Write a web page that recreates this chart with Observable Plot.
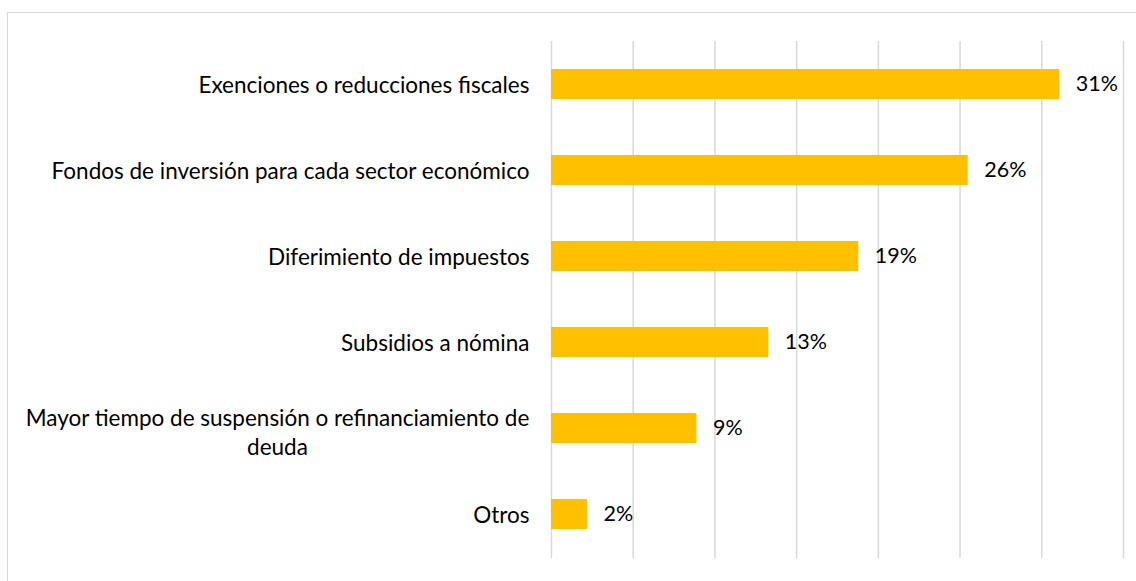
<!DOCTYPE html>
<html>
<head>
<meta charset="utf-8">
<script src="https://cdn.jsdelivr.net/npm/d3@7"></script>
<script src="https://cdn.jsdelivr.net/npm/@observablehq/plot@0.6"></script>
<style>
  html, body { margin: 0; padding: 0; background: #fff; overflow: hidden; }
  #wrap { position: relative; width: 1136px; height: 581px; overflow: hidden; }
  #frame { position: absolute; left: 7px; top: 12px; width: 1300px; height: 800px; border: 1.5px solid #d9d9d9; box-sizing: border-box; }
  #chart { position: absolute; left: 0; top: 0; }
</style>
</head>
<body>
<div id="wrap"><div id="frame"></div><div id="chart"></div></div>
<script>
const categories = [
  "Exenciones o reducciones fiscales",
  "Fondos de inversión para cada sector económico",
  "Diferimiento de impuestos",
  "Subsidios a nómina",
  "Mayor tiempo de suspensión o refinanciamiento de\ndeuda",
  "Otros"
];
const values = [31.1, 25.5, 18.8, 13.3, 8.9, 2.2];
const valueLabels = ["31%", "26%", "19%", "13%", "9%", "2%"];
const gridTicks = [0, 5, 10, 15, 20, 25, 30, 35];

const data = categories.map((c, i) => ({cat: c, value: values[i], label: valueLabels[i], multi: c.includes("\n")}));

const font = "Lato, sans-serif";
const fs = 22.5;
const chart = Plot.plot({
  width: 1136,
  height: 581,
  marginLeft: 551,
  marginRight: 13,
  marginTop: 41,
  marginBottom: 23,
  style: {fontFamily: font, background: "transparent", overflow: "visible"},
  x: {domain: [0, 35], axis: null},
  y: {domain: categories, axis: null, paddingInner: 0.65, paddingOuter: 0.325},
  marks: [
    Plot.ruleX(gridTicks, {x: d => d, stroke: "#d9d9d9", strokeWidth: 1.5}),
    Plot.barX(data, {x: "value", y: "cat", fill: "#FFC000"}),
    Plot.text(data, {x: "value", y: "cat", text: "label", dx: 16, textAnchor: "start", fontSize: 21.5, fill: "#000", fontFamily: font}),
    Plot.text(data.filter(d => !d.multi), {x: 0, y: "cat", text: "cat", dx: -22, dy: 1, textAnchor: "end", fontSize: fs, fill: "#000", fontFamily: font}),
    Plot.text(data.filter(d => d.multi), {x: 0, y: "cat", text: "cat", dx: -274, dy: 3, textAnchor: "middle", lineAnchor: "middle", lineHeight: 1.29, fontSize: fs, fill: "#000", fontFamily: font})
  ]
});
document.getElementById("chart").appendChild(chart);
</script>
</body>
</html>
